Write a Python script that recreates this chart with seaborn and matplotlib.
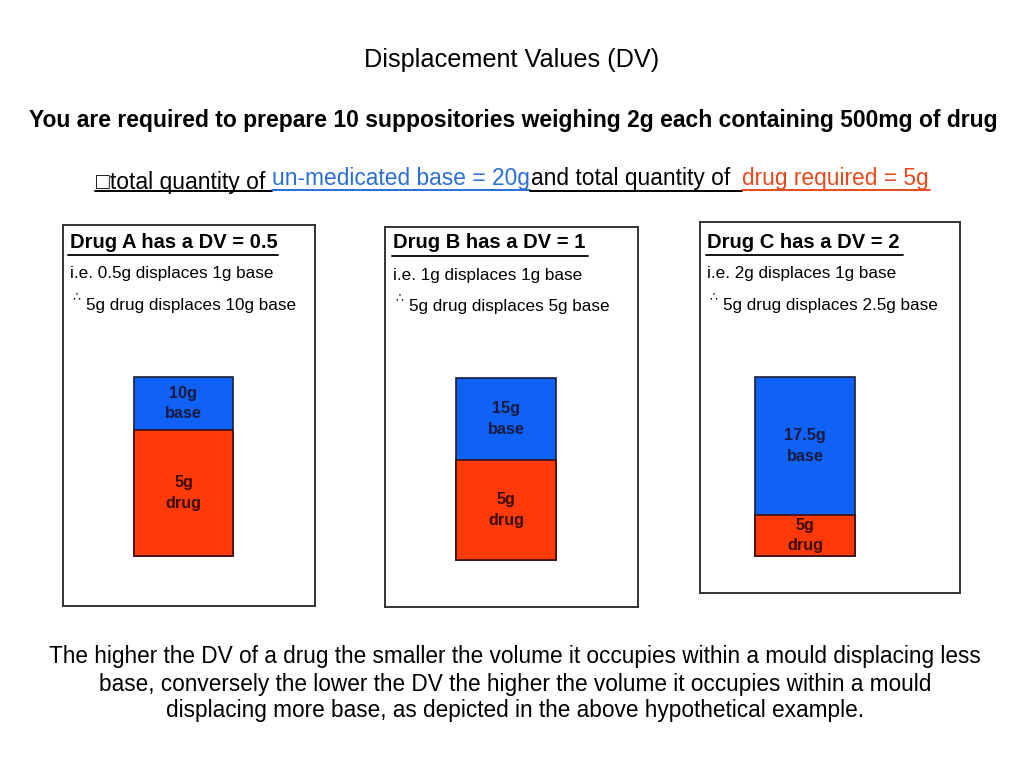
import matplotlib.pyplot as plt
import seaborn as sns
import pandas as pd
from matplotlib.lines import Line2D

# --- data ---
drugs = ['Drug A', 'Drug B', 'Drug C']
dv_values = ['0.5', '1', '2']
ie_lines = ['i.e. 0.5g displaces 1g base', 'i.e. 1g displaces 1g base', 'i.e. 2g displaces 1g base']
therefore_lines = ['5g drug displaces 10g base', '5g drug displaces 5g base', '5g drug displaces 2.5g base']
base_labels = ['10g\nbase', '15g\nbase', '17.5g\nbase']
drug_labels = ['5g\ndrug', '5g\ndrug', '5g\ndrug']
# drawn heights of the mould segments
drug_height = [126, 100, 41]
base_height = [53, 82, 138]

BLUE = '#0f62f5'
RED = '#ff3a0a'
TXT_BLUE = '#2a6fd6'
TXT_RED = '#e8481c'

W, H = 1024, 768
sns.set_theme(style='white')
plt.rcParams['font.family'] = ['Liberation Sans', 'DejaVu Sans']
plt.rcParams['text.color'] = 'black'

fig = plt.figure(figsize=(10.24, 7.68), dpi=100)


def px(x, y):
    return x / W, 1 - y / H


def text(x, y, s, **kw):
    fx, fy = px(x, y)
    fig.text(fx, fy, s, **kw)


def underline(x0, x1, y, color='black', lw=1.4):
    (a, b), (c, _) = px(x0, y), px(x1, y)
    fig.add_artist(Line2D([a, c], [b, b], color=color, lw=lw, transform=fig.transFigure))


# header
text(512, 60, 'Displacement Values (DV)', fontsize=18.2, ha='center', va='center')
text(513, 120, 'You are required to prepare 10 suppositories weighing 2g each containing 500mg of drug',
     fontsize=16.5, fontweight='bold', ha='center', va='center')

text(96, 182, '\u25a1total quantity of', fontsize=16.5, ha='left', va='center')
text(272, 178, 'un-medicated base = 20g', fontsize=16.4, color=TXT_BLUE, ha='left', va='center')
text(531, 178, 'and total quantity of', fontsize=16.4, ha='left', va='center')
text(742, 179, 'drug required = 5g', fontsize=16.4, color=TXT_RED, ha='left', va='center')
underline(95, 272, 191)
underline(272, 530, 190, TXT_BLUE)
underline(530, 742, 191)
underline(742, 930, 190, TXT_RED)

# panel layout: box (left, top, right, bottom), bar centre, bar width, bar bottom
boxes = [(63, 225, 315, 606), (385, 227, 638, 607), (700, 222, 960, 593)]
bar_cx = [183.5, 506, 805]
bar_w = [99, 100, 100]
bar_bottom = [556, 560, 556]
head_x = [70, 393, 707]
head_y = [242, 243, 242]
head_ul = [(68, 278), (392, 588), (706, 903)]

for i, name in enumerate(drugs):
    l, t, r, b = boxes[i]
    ax = fig.add_axes([l / W, 1 - b / H, (r - l) / W, (b - t) / H])
    df = pd.DataFrame({'drug': [name], 'total': [drug_height[i] + base_height[i]],
                       'drug_part': [drug_height[i]]})
    sns.barplot(data=df, x='drug', y='total', color=BLUE, saturation=1, width=1,
                errorbar=None, edgecolor='#1e1e3a', linewidth=1.2, ax=ax)
    sns.barplot(data=df, x='drug', y='drug_part', color=RED, saturation=1, width=1,
                errorbar=None, edgecolor='#3a1010', linewidth=1.2, ax=ax)
    bw = bar_w[i]
    ax.set_xlim(-(bar_cx[i] - l) / bw, (r - bar_cx[i]) / bw)
    ax.set_ylim(-(b - bar_bottom[i]), bar_bottom[i] - t)
    ax.set_xticks([])
    ax.set_yticks([])
    ax.set_xlabel('')
    ax.set_ylabel('')
    for sp in ax.spines.values():
        sp.set_visible(True)
        sp.set_color('#333333')
        sp.set_linewidth(1.4)

    d, bs = drug_height[i], base_height[i]
    ax.text(0, d / 2, drug_labels[i], ha='center', va='center', fontsize=11.7,
            fontweight='bold', color='#3b0a00', linespacing=1.45)
    ax.text(0, d + bs / 2, base_labels[i], ha='center', va='center', fontsize=11.7,
            fontweight='bold', color='#1a1a40', linespacing=1.45)

    text(head_x[i], head_y[i], f'{name} has a DV = {dv_values[i]}', fontsize=14.5,
         fontweight='bold', ha='left', va='center')
    underline(head_ul[i][0], head_ul[i][1], head_y[i] + 12.5, lw=1.3)
    text(head_x[i], head_y[i] + 32, ie_lines[i], fontsize=12.3, ha='left', va='center')
    text(head_x[i] + 2, head_y[i] + 55, '\u2234', fontsize=9, ha='left', va='center',
         family=['DejaVu Sans'])
    text(head_x[i] + 16, head_y[i] + 63, therefore_lines[i], fontsize=12.3, ha='left', va='center')

# footer paragraph
footer = ['The higher the DV of a drug the smaller the volume it occupies within a mould displacing less',
          'base, conversely the lower the DV the higher the volume it occupies within a mould',
          'displacing more base, as depicted in the above hypothetical example.']
for k, line in enumerate(footer):
    text(515, 657 + 27 * k, line, fontsize=16.3, ha='center', va='center')

fig.savefig('out.png', dpi=100)
